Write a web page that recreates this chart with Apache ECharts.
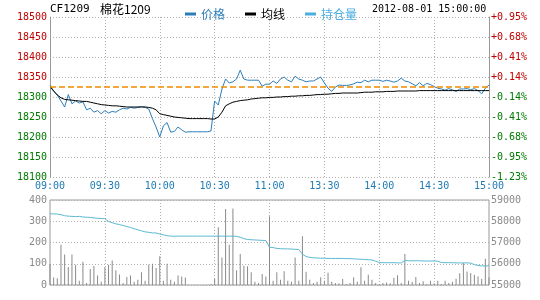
<!DOCTYPE html>
<html><head><meta charset="utf-8">
<script src="https://cdn.jsdelivr.net/npm/echarts@6/dist/echarts.min.js"></script>
<style>html,body{margin:0;padding:0;background:#fff}#c{width:540px;height:300px}</style>
</head><body><div id="c"></div>
<script>
// tick labels (every 30 minutes on an evenly spaced trading-time axis)
const tickLabels = ['09:00','09:30','10:00','10:30','11:00','13:30','14:00','14:30','15:00'];
const priceTicks = [18100,18150,18200,18250,18300,18350,18400,18450,18500];
const pctLabels = ['-1.23%','-0.95%','-0.68%','-0.41%','-0.14%','+0.14%','+0.41%','+0.68%','+0.95%'];
const volTicks = [0,100,200,300,400];
const oiTicks = [55000,56000,57000,58000,59000];
const prevSettle = 18325;

// price, every 2 minutes (121 points)
const price = [18330,18315,18305,18290,18275,18306,18283,18290,18285,18288,
 18268,18272,18262,18266,18258,18266,18260,18264,18262,18268,
 18272,18270,18274,18272,18274,18276,18274,18270,18246,18225,
 18200,18228,18236,18212,18214,18225,18218,18212,18213,18213,
 18213,18213,18213,18213,18215,18290,18280,18320,18345,18335,
 18338,18345,18367,18345,18342,18342,18342,18342,18327,18332,
 18332,18340,18334,18345,18350,18342,18338,18352,18345,18342,
 18338,18340,18340,18345,18350,18335,18322,18314,18325,18330,
 18329,18329,18330,18333,18337,18336,18342,18338,18342,18342,
 18342,18339,18342,18340,18337,18340,18347,18340,18338,18333,
 18328,18336,18328,18334,18331,18326,18322,18320,18317,18321,
 18318,18314,18320,18320,18321,18318,18321,18316,18308,18322,
 18330];
// average price line
const avgPrice = [18325,18315,18305,18298,18294,18293,18292,18291,18290,18289,
 18289,18287,18285,18283,18281,18280,18279,18278,18278,18277,
 18276,18275,18275,18275,18275,18275,18275,18274,18272,18268,
 18258,18256,18254,18252,18250,18249,18248,18247,18246,18246,
 18246,18246,18246,18246,18245,18245,18250,18262,18278,18283,
 18287,18289,18291,18292,18293,18295,18296,18297,18298,18298,
 18299,18299,18300,18300,18301,18301,18302,18302,18303,18303,
 18304,18304,18305,18306,18306,18307,18307,18308,18309,18309,
 18310,18310,18310,18310,18310,18311,18312,18312,18312,18313,
 18313,18313,18314,18314,18314,18315,18315,18315,18315,18315,
 18315,18316,18316,18316,18316,18316,18316,18316,18316,18316,
 18316,18316,18316,18316,18316,18316,18316,18316,18316,18316,
 18316];
// volume
const volume = [99,35,32,190,143,85,143,95,20,110,
 10,75,90,45,15,85,95,115,70,50,
 10,38,45,15,25,60,20,95,100,80,
 135,20,100,25,15,45,40,35,0,0,
 0,0,0,0,5,30,272,130,358,190,
 360,70,146,91,88,60,15,10,52,40,
 324,20,60,25,65,20,15,130,20,229,
 62,25,10,15,36,20,58,15,10,8,
 28,5,10,36,15,83,20,48,25,10,
 5,10,12,8,34,46,10,146,20,15,
 38,10,18,5,20,8,20,5,20,10,
 15,30,55,104,64,57,48,40,30,123,
 35];
// open interest (持仓量)
const openInterest = [58350,58350,58340,58310,58260,58240,58230,58220,58230,58200,
 58190,58180,58160,58140,58130,58120,57990,57930,57880,57840,
 57800,57750,57710,57650,57600,57550,57500,57480,57450,57450,
 57400,57360,57320,57300,57300,57300,57300,57300,57300,57300,
 57300,57300,57300,57300,57300,57300,57300,57300,57300,57300,
 57300,57290,57250,57180,57140,57130,57120,57110,57100,57090,
 56780,56760,56720,56710,56700,56700,56690,56680,56670,56450,
 56340,56300,56280,56270,56260,56260,56250,56250,56250,56250,
 56250,56240,56240,56230,56220,56210,56200,56190,56180,56120,
 56060,56050,56050,56050,56050,56040,56040,56150,56140,56140,
 56140,56140,56130,56130,56130,56130,56120,56060,56050,56050,
 56050,56040,56040,56040,56040,56030,55960,55920,55900,55900,
 55900];

const categories = price.map((_, i) => String(i));
const mono = 'DejaVu Sans Mono';
const cjk = 'Noto Sans CJK SC';
const red = '#c00000', green = '#007a00', timeBlue = '#1f7ab5';
const priceColor = '#2b7db8', oiColor = '#5cb8d0', volColor = '#8a8a8a';
const settleColor = '#f08c00';
const dotted = {color:'#b0b0b0', type:[1,2], width:1};
const showTick = (i) => i % 15 === 0;
const innerTick = (i) => i % 15 === 0 && i !== 0 && i !== categories.length - 1;
const plain = (v) => String(v);

const chart = echarts.init(document.getElementById('c'), null, {renderer:'canvas'});
chart.setOption({
  animation:false,
  backgroundColor:'#fff',
  textStyle:{fontFamily:mono},
  graphic:[
    {type:'text', left:50, top:4, style:{text:'CF1209', font:'11px "DejaVu Sans Mono"', fill:'#000'}},
    {type:'text', left:100, top:3, style:{text:'棉花1209', font:'12px "Noto Sans CJK SC"', fill:'#000'}},
    {type:'text', left:372, top:4, style:{text:'2012-08-01 15:00:00', font:'10px "DejaVu Sans Mono"', fill:'#000'}}
  ],
  legend:{
    left:180, top:3, icon:'rect', itemWidth:11, itemHeight:3, itemGap:20,
    selectedMode:false,
    textStyle:{fontFamily:cjk, fontSize:12},
    data:[
      {name:'价格', textStyle:{color:priceColor}},
      {name:'均线', textStyle:{color:'#000'}},
      {name:'持仓量', textStyle:{color:'#4aaee0'}, itemStyle:{color:'#4aaee0'}}
    ]
  },
  grid:[
    {left:50, right:51, top:17, height:160},
    {left:50, right:51, top:200, height:85, show:true, borderColor:'#999', borderWidth:1}
  ],
  xAxis:[
    {type:'category', gridIndex:0, data:categories, boundaryGap:false,
     axisLine:{show:false}, axisTick:{show:false},
     axisLabel:{interval:(i)=>showTick(i), formatter:(v,i)=>tickLabels[Math.round(Number(v)/15)],
       color:timeBlue, fontFamily:mono, fontSize:10, margin:4},
     splitLine:{show:true, interval:(i)=>innerTick(i), lineStyle:dotted}},
    {type:'category', gridIndex:1, data:categories, boundaryGap:false,
     axisLine:{show:false}, axisTick:{show:false}, axisLabel:{show:false},
     splitLine:{show:true, interval:(i)=>innerTick(i), lineStyle:dotted}}
  ],
  yAxis:[
    {type:'value', gridIndex:0, min:priceTicks[0], max:priceTicks[priceTicks.length-1], interval:50,
     axisLine:{show:true, lineStyle:{color:'#999'}}, axisTick:{show:false},
     axisLabel:{formatter:plain, color:(v)=>Number(v)>prevSettle?red:green, fontFamily:mono, fontSize:10, margin:3},
     splitLine:{show:true, lineStyle:dotted}},
    {type:'value', gridIndex:0, position:'right', min:priceTicks[0], max:priceTicks[priceTicks.length-1], interval:50,
     axisLine:{show:true, lineStyle:{color:'#999'}}, axisTick:{show:false},
     axisLabel:{formatter:(v)=>pctLabels[priceTicks.indexOf(Number(v))], color:(v)=>Number(v)>prevSettle?red:green,
       fontFamily:mono, fontSize:10, margin:2},
     splitLine:{show:false}},
    {type:'value', gridIndex:1, min:volTicks[0], max:volTicks[volTicks.length-1], interval:100,
     axisLine:{show:false}, axisTick:{show:false},
     axisLabel:{formatter:plain, color:'#8a8a8a', fontFamily:mono, fontSize:10, margin:3},
     splitLine:{show:true, lineStyle:dotted}},
    {type:'value', gridIndex:1, position:'right', min:oiTicks[0], max:oiTicks[oiTicks.length-1], interval:1000,
     axisLine:{show:false}, axisTick:{show:false},
     axisLabel:{formatter:plain, color:'#8a8a8a', fontFamily:mono, fontSize:10, margin:2},
     splitLine:{show:false}}
  ],
  series:[
    {name:'价格', type:'line', xAxisIndex:0, yAxisIndex:0, data:price, showSymbol:false, symbol:'none',
     lineStyle:{color:priceColor, width:1}, itemStyle:{color:priceColor}, z:3,
     markLine:{silent:true, symbol:['none','none'], label:{show:false}, precision:0,
       itemStyle:{color:settleColor},
       lineStyle:{color:settleColor, type:[6,3], width:1.5, opacity:1},
       emphasis:{disabled:true},
       data:[{yAxis:prevSettle, itemStyle:{color:settleColor}, lineStyle:{color:settleColor}}]}},
    {name:'均线', type:'line', xAxisIndex:0, yAxisIndex:0, data:avgPrice, showSymbol:false, symbol:'none',
     lineStyle:{color:'#000', width:1}, itemStyle:{color:'#000'}, z:4},
    {name:'成交量', type:'bar', xAxisIndex:1, yAxisIndex:2, data:volume, barWidth:1,
     itemStyle:{color:volColor}},
    {name:'持仓量', type:'line', xAxisIndex:1, yAxisIndex:3, data:openInterest, showSymbol:false, symbol:'none',
     lineStyle:{color:oiColor, width:1}, itemStyle:{color:oiColor}}
  ]
});
</script></body></html>
